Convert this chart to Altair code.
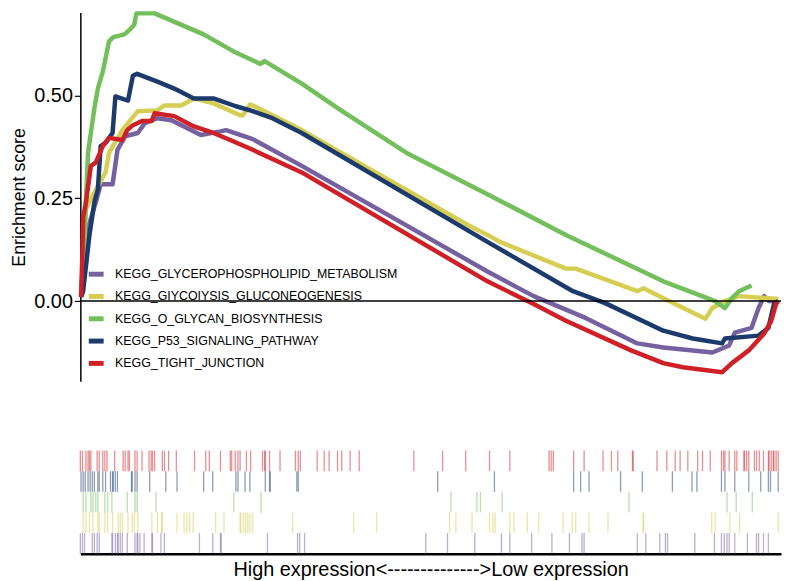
import altair as alt
import pandas as pd

# ---- names / colours ----
names = [
    "KEGG_GLYCEROPHOSPHOLIPID_METABOLISM",
    "KEGG_GIYCOIYSIS_GLUCONEOGENESIS",
    "KEGG_O_GLYCAN_BIOSYNTHESIS",
    "KEGG_P53_SIGNALING_PATHWAY",
    "KEGG_TIGHT_JUNCTION",
]
colors = ["#75619F", "#D6CE52", "#72BF5C", "#1D3A6C", "#CF2027"]

# ---- running enrichment score curves (rank in list 0..1000, ES) ----
purple_rank = [1, 8, 22, 29, 46, 53, 64, 82, 92, 110, 130, 172, 200, 208, 246, 316, 581, 647, 721, 795, 832, 902, 926, 934, 958, 968, 976, 983, 996]
purple_es = [0.010, 0.161, 0.240, 0.284, 0.284, 0.368, 0.401, 0.409, 0.433, 0.445, 0.440, 0.404, 0.413, 0.416, 0.394, 0.329, 0.072, 0.012, -0.041, -0.103, -0.113, -0.125, -0.108, -0.077, -0.065, -0.017, 0.012, 0.000, 0.000]

yellow_rank = [1, 4, 8, 20, 36, 41, 60, 82, 110, 120, 144, 162, 190, 228, 232, 242, 246, 316, 372, 553, 581, 599, 693, 707, 795, 804, 832, 892, 902, 920, 940, 996]
yellow_es = [0.010, 0.103, 0.224, 0.264, 0.313, 0.361, 0.416, 0.462, 0.464, 0.476, 0.476, 0.493, 0.481, 0.452, 0.452, 0.478, 0.476, 0.416, 0.361, 0.185, 0.161, 0.144, 0.079, 0.079, 0.024, 0.031, 0.007, -0.043, -0.017, 0.000, 0.012, 0.005]

green_rank = [1, 6, 11, 20, 25, 32, 41, 47, 63, 71, 77, 80, 106, 176, 218, 257, 263, 316, 372, 465, 567, 581, 693, 832, 906, 920, 930, 940, 958]
green_es = [0.012, 0.168, 0.361, 0.469, 0.517, 0.558, 0.632, 0.642, 0.649, 0.661, 0.673, 0.700, 0.700, 0.649, 0.608, 0.577, 0.584, 0.529, 0.464, 0.361, 0.272, 0.260, 0.161, 0.048, 0.000, -0.017, 0.007, 0.024, 0.038]

navy_rank = [1, 4, 13, 20, 25, 29, 36, 46, 50, 68, 75, 81, 110, 134, 162, 190, 222, 246, 274, 316, 372, 581, 703, 749, 832, 874, 916, 920, 968, 982, 990, 996]
navy_es = [0.010, 0.024, 0.161, 0.240, 0.272, 0.377, 0.385, 0.409, 0.498, 0.488, 0.548, 0.553, 0.534, 0.517, 0.493, 0.493, 0.474, 0.462, 0.445, 0.409, 0.353, 0.144, 0.024, -0.005, -0.072, -0.091, -0.103, -0.091, -0.084, -0.065, -0.007, 0.000]

red_rank = [1, 3, 4, 8, 15, 22, 32, 41, 60, 67, 75, 88, 102, 106, 134, 162, 190, 218, 246, 316, 581, 647, 693, 786, 832, 860, 916, 930, 954, 976, 986, 993, 996]
red_es = [0.010, 0.120, 0.204, 0.240, 0.329, 0.337, 0.377, 0.397, 0.392, 0.416, 0.428, 0.438, 0.438, 0.457, 0.450, 0.425, 0.409, 0.389, 0.368, 0.313, 0.048, -0.007, -0.048, -0.120, -0.151, -0.161, -0.173, -0.151, -0.120, -0.079, -0.048, -0.007, 0.000]

# ---- gene hit positions (rank 0..1000) ----
red_hits = [0, 3, 8, 11, 13, 15, 24, 27, 32, 35, 38, 49, 61, 64, 68, 70, 78, 81, 88, 98, 101, 103, 106, 117, 120, 126, 137, 163, 179, 184, 200, 214, 216, 221, 225, 228, 237, 243, 260, 263, 264, 270, 285, 307, 311, 314, 338, 348, 355, 367, 373, 385, 398,
            476, 517, 550, 584, 613, 669, 672, 675, 704, 719, 746, 758, 767, 788, 789, 823, 837, 849, 856, 867, 881, 888, 899, 915, 918, 920, 926, 934, 937, 947, 948, 951, 954, 962, 965, 969, 975, 982, 983, 986, 989, 990, 993, 996]
navy_hits = [1, 4, 7, 11, 14, 17, 20, 25, 27, 32, 36, 43, 46, 47, 50, 53, 73, 74, 78, 81, 99, 122, 138, 176, 189, 222, 225, 235, 242, 264, 270, 271, 309, 311,
             510, 591, 704, 714, 726, 771, 802, 845, 873, 880, 915, 920, 934, 954, 971, 982, 985, 996]
green_hits = [4, 8, 15, 18, 22, 25, 35, 39, 45, 67, 78, 81, 108, 219, 258,
              529, 566, 571, 602, 783, 923, 936, 959]
yellow_hits = [4, 8, 13, 18, 25, 27, 35, 39, 46, 54, 57, 60, 68, 74, 77, 82, 102, 110, 116, 117, 138, 148, 152, 156, 161, 193, 205, 228, 229, 233, 236, 239, 242, 246, 303, 390, 423,
               527, 536, 559, 584, 589, 592, 613, 619, 638, 654, 689, 702, 707, 726, 753, 803, 804, 901, 906, 927, 941, 996]
purple_hits = [0, 3, 6, 17, 20, 24, 27, 45, 46, 50, 53, 54, 57, 60, 67, 78, 81, 82, 85, 91, 102, 103, 115, 120, 170, 189, 200, 201, 267, 310, 313, 320,
               493, 524, 563, 601, 613, 644, 673, 698, 716, 719, 795, 807, 827, 835, 838, 877, 905, 915, 919, 923, 926, 934, 952, 965, 968, 975, 982]

curves = [
    (names[0], purple_rank, purple_es),
    (names[1], yellow_rank, yellow_es),
    (names[2], green_rank, green_es),
    (names[3], navy_rank, navy_es),
    (names[4], red_rank, red_es),
]
rows = []
for k, (n, rr, ee) in enumerate(curves):
    for r, e in zip(rr, ee):
        rows.append({"set": n, "rank": r, "es": e, "k": k})
df = pd.DataFrame(rows)

hits = [
    (names[4], red_hits),
    (names[3], navy_hits),
    (names[2], green_hits),
    (names[1], yellow_hits),
    (names[0], purple_hits),
]
hrows = []
for n, hh in hits:
    for h in hh:
        hrows.append({"set": n, "rank": h})
hdf = pd.DataFrame(hrows)
rug_order = [h[0] for h in hits]

FONT = "Liberation Sans"
color_scale = alt.Scale(domain=names, range=colors)
xscale = alt.Scale(domain=[0, 1000], nice=False, zero=False)

lines = alt.Chart(df).mark_line(strokeWidth=4.5, strokeJoin="round").encode(
    x=alt.X("rank:Q", scale=xscale, axis=None),
    y=alt.Y(
        "es:Q",
        scale=alt.Scale(domain=[-0.195, 0.702], nice=False, zero=False),
        axis=alt.Axis(
            values=[0, 0.25, 0.5], format=".2f", title="Enrichment score",
            grid=False, domainColor="black", domainWidth=1.5,
            tickColor="black", tickSize=6, tickWidth=1.2,
            labelFontSize=20, labelColor="black", labelPadding=2,
            titleFontSize=18, titleColor="black", titleFontWeight="normal",
            titlePadding=5,
        ),
    ),
    color=alt.Color(
        "set:N", scale=color_scale,
        legend=alt.Legend(
            title=None, orient="none", legendX=6, legendY=254,
            symbolType="stroke", symbolStrokeWidth=5, symbolSize=225,
            labelFontSize=12.5, labelColor="black", labelFont=FONT,
            rowPadding=2.5, labelOffset=9, padding=0,
            labelLimit=400,
        ),
    ),
    order=alt.Order("rank:Q"),
)

zero = alt.Chart(pd.DataFrame({"es": [0.0]})).mark_rule(
    color="black", strokeWidth=1.5
).encode(y="es:Q")

top = alt.layer(lines, zero).properties(width=707, height=372)

rug = alt.Chart(hdf).mark_tick(thickness=1.3, size=20.8, opacity=0.5).encode(
    x=alt.X(
        "rank:Q", scale=xscale,
        axis=alt.Axis(
            title="High expression<-------------->Low expression",
            labels=False, ticks=False, grid=False,
            domainColor="black", domainWidth=2.5,
            titleFontSize=20, titleFontWeight="normal", titleColor="black",
            titlePadding=6,
        ),
    ),
    y=alt.Y("set:N", scale=alt.Scale(domain=rug_order, paddingInner=0, paddingOuter=0), axis=None),
    color=alt.Color("set:N", scale=color_scale, legend=None),
).properties(width=707, height=104)

chart = (
    alt.vconcat(top, rug, spacing=70)
    .resolve_scale(color="independent")
    .properties(padding={"left": 3, "top": 0, "right": 0, "bottom": 0})
    .configure(font=FONT)
    .configure_view(stroke=None)
)

chart.save("out.html", embed_options={"renderer": "svg", "actions": False})
